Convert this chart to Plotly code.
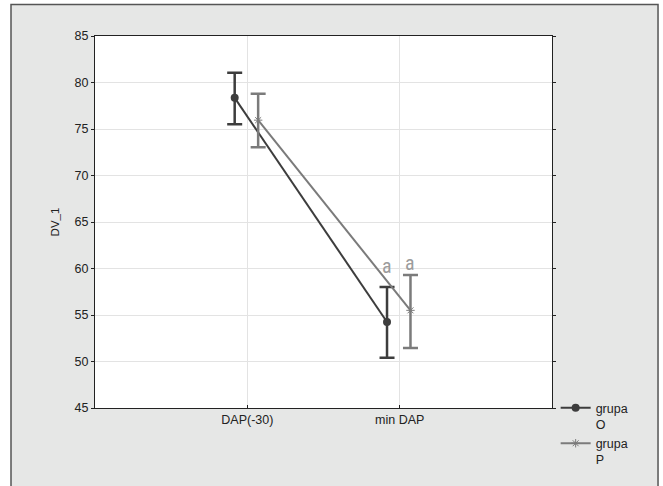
import plotly.graph_objects as go

categories = ["DAP(-30)", "min DAP"]
groups = ["grupa<br>O", "grupa<br>P"]
mean_O = [78.35, 54.25]
low_O = [75.5, 50.4]
high_O = [81.05, 58.0]
mean_P = [75.95, 55.5]
low_P = [73.05, 51.45]
high_P = [78.8, 59.3]
sig_labels = ["a", "a"]
sig_y = [60.25, 60.55]

cat_pos = [1, 2]
off_O = -0.083
off_P = 0.071

col_O = "#3d3d3d"
col_P = "#7b7b7b"

x_O = [p + off_O for p in cat_pos]
x_P = [p + off_P for p in cat_pos]

fig = go.Figure()
fig.add_trace(go.Scatter(
    x=x_O, y=mean_O, mode="lines+markers", name=groups[0],
    line=dict(color=col_O, width=2),
    marker=dict(symbol="circle", size=8, color=col_O),
    error_y=dict(type="data", symmetric=False,
                 array=[h - m for h, m in zip(high_O, mean_O)],
                 arrayminus=[m - l for m, l in zip(mean_O, low_O)],
                 color=col_O, thickness=2.5, width=7.5),
))
fig.add_trace(go.Scatter(
    x=x_P, y=mean_P, mode="lines+markers", name=groups[1],
    line=dict(color=col_P, width=2),
    marker=dict(symbol="asterisk-open", size=7, color=col_P,
                line=dict(color=col_P, width=1)),
    error_y=dict(type="data", symmetric=False,
                 array=[h - m for h, m in zip(high_P, mean_P)],
                 arrayminus=[m - l for m, l in zip(mean_P, low_P)],
                 color=col_P, thickness=2.5, width=7.5),
))

for xx, yy, t in zip([x_O[1], x_P[1]], sig_y, sig_labels):
    fig.add_annotation(x=xx, y=yy, text=t, showarrow=False,
                       xanchor="center", yanchor="middle",
                       font=dict(family="Liberation Sans Narrow, Arial Narrow, Roboto Condensed, sans-serif",
                                 size=20, color="#9c9c9c"))

# outer frame
fig.add_shape(type="rect", xref="paper", yref="paper",
              x0=-0.1838, x1=1.232, y0=-0.25, y1=1.0847,
              fillcolor="#e6e7e6", line=dict(color="#555555", width=1.5),
              layer="below")
fig.add_shape(type="rect", xref="paper", yref="paper",
              x0=0, x1=1, y0=0, y1=1,
              fillcolor="white", line=dict(width=0), layer="below")

font_main = "Liberation Sans, Arial, sans-serif"
fig.update_layout(
    width=663, height=486,
    margin=dict(l=95, r=111, t=36, b=72),
    paper_bgcolor="white", plot_bgcolor="white",
    font=dict(family=font_main, size=12, color="#222222"),
    showlegend=True,
    legend=dict(x=1.008, y=0.04, xanchor="left", yanchor="top",
                bgcolor="rgba(0,0,0,0)", itemwidth=30, valign="top",
                tracegroupgap=4,
                font=dict(family=font_main, size=12.5, color="#222222")),
    xaxis=dict(range=[0, 3], tickvals=cat_pos, ticktext=categories,
               showgrid=True, gridcolor="#e3e3e3", gridwidth=1,
               showline=True, linecolor="#222222", linewidth=1, mirror=True,
               ticks="inside", ticklen=3, tickcolor="#222222",
               zeroline=False, tickfont=dict(size=12.5)),
    yaxis=dict(range=[45, 85], dtick=5, title=dict(text="DV_1", font=dict(size=11.5), standoff=12),
               showgrid=True, gridcolor="#e3e3e3", gridwidth=1,
               showline=True, linecolor="#222222", linewidth=1, mirror="ticks",
               ticks="outside", ticklen=3, tickcolor="#222222",
               zeroline=False, tickfont=dict(size=12.5)),
)

fig.write_html("out.html", config={"displayModeBar": False},
               post_script="document.body.style.margin='0';document.body.style.overflow='hidden';")
